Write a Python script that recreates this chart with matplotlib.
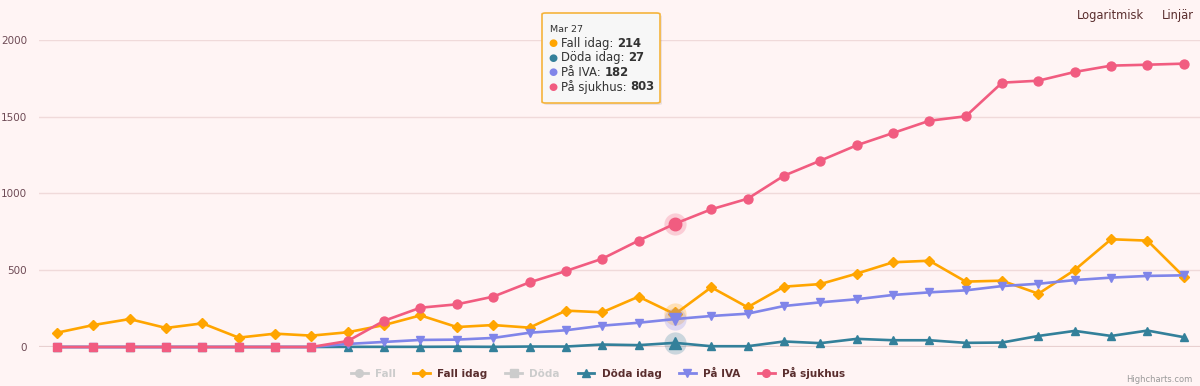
import matplotlib
matplotlib.use("Agg")
import matplotlib.pyplot as plt
from matplotlib.lines import Line2D
from matplotlib.patches import FancyBboxPatch
import numpy as np

plt.rcParams['font.family'] = ['DejaVu Sans']

# ---- data (Mar 10 .. Apr 10) ----
dates = ["Mar %d" % d for d in range(10, 32)] + ["Apr %d" % d for d in range(1, 11)]
fall_idag = [93, 143, 182, 124, 154, 61, 87, 74, 96, 143, 206, 130, 143, 126, 237, 226,
             328, 214, 389, 259, 393, 410, 478, 552, 562, 426, 432, 347, 502, 702, 693, 458]
doda_idag = [0, 0, 0, 0, 0, 0, 0, 0, 1, 1, 1, 2, 1, 3, 3, 16,
             12, 27, 5, 5, 36, 25, 53, 44, 44, 27, 29, 72, 105, 72, 107, 64]
pa_iva = [0, 0, 0, 0, 0, 0, 0, 0, 20, 33, 46, 48, 59, 93, 109, 139,
          158, 182, 202, 217, 267, 291, 311, 339, 356, 369, 397, 412, 436, 452, 463, 467]
pa_sjukhus = [0, 0, 0, 0, 0, 0, 0, 0, 39, 171, 256, 278, 328, 421, 495, 575,
              693, 803, 897, 966, 1116, 1214, 1314, 1394, 1474, 1503, 1722, 1735, 1792, 1833, 1839, 1846]
yticks = [0, 500, 1000, 1500, 2000]
hover_index = 17

C_FALL = "#FFA500"
C_DODA = "#33809A"
C_IVA = "#8085E9"
C_SJUK = "#F15C80"
C_GRAY = "#CCCCCC"
BG = "#FFF4F4"
TXT = "#5A2E2E"

W, H = 1200, 386
fig = plt.figure(figsize=(W / 100, H / 100), dpi=100, facecolor=BG)

def fx(px):
    return px / W

def fy(py):
    return 1 - py / H

ax_left, ax_right = 38.8, 1202.0
ax_top, ax_bot = 40.0, 347.0
ax = fig.add_axes([fx(ax_left), fy(ax_bot), fx(ax_right - ax_left), (ax_bot - ax_top) / H])
ax.set_facecolor(BG)
x = np.arange(len(dates))
ax.set_xlim(-0.5, len(dates) - 0.5)
ax.set_ylim(0, 2000)

for s in ax.spines.values():
    s.set_visible(False)
ax.set_xticks([])
ax.set_yticks(yticks)
ax.set_yticklabels([str(t) for t in yticks], color="#6E4A55", fontsize=7.5)
ax.tick_params(axis='y', length=0, pad=8.5)
for t in yticks[1:]:
    ax.axhline(t, color="#F0DADA", lw=1.0, zorder=0)
ax.axhline(0, color="#E8D0D0", lw=1.6, zorder=0.5)

lw = 1.9
ms = 5.6
ax.plot(x, fall_idag, color=C_FALL, lw=lw, marker='D', ms=ms * 0.85, clip_on=False, zorder=3)
ax.plot(x, doda_idag, color=C_DODA, lw=lw, marker='^', ms=ms, clip_on=False, zorder=4)
ax.plot(x, pa_iva, color=C_IVA, lw=lw, marker='v', ms=ms, clip_on=False, zorder=5)
sj = np.array(pa_sjukhus)
ax.plot(x, sj, color=C_SJUK, lw=lw, clip_on=False, zorder=6)
pos = sj > 0
ax.plot(x[pos], sj[pos], ls='none', marker='o', ms=ms * 1.15, color=C_SJUK, clip_on=False, zorder=6)
ax.plot(x[~pos], sj[~pos], ls='none', marker='s', ms=ms * 1.05, color=C_SJUK, clip_on=False, zorder=6)

# hover halos at Mar 27
hi = hover_index
for vals, col, mk, z in [(fall_idag, C_FALL, 'D', 3), (doda_idag, C_DODA, '^', 4),
                         (pa_iva, C_IVA, 'v', 5), (pa_sjukhus, C_SJUK, 'o', 6)]:
    ax.plot([hi], [vals[hi]], ls='none', marker='o', ms=16, color=col, alpha=0.25,
            mec='none', clip_on=False, zorder=z)
    ax.plot([hi], [vals[hi]], ls='none', marker=mk, ms=9 if mk != 'D' else 7.5,
            color=col, clip_on=False, zorder=z + 0.1)

# ---- legend ----
handles = [
    Line2D([], [], color=C_GRAY, lw=2, marker='o', ms=5.5),
    Line2D([], [], color=C_FALL, lw=2, marker='D', ms=4.5),
    Line2D([], [], color=C_GRAY, lw=2, marker='s', ms=5.5),
    Line2D([], [], color=C_DODA, lw=2, marker='^', ms=5.5),
    Line2D([], [], color=C_IVA, lw=2, marker='v', ms=5.5),
    Line2D([], [], color=C_SJUK, lw=2, marker='o', ms=5.5),
]
labels = ["Fall", "Fall idag", "Döda", "Döda idag", "På IVA", "På sjukhus"]
leg = fig.legend(handles, labels, loc='center', bbox_to_anchor=(fx(598), fy(373)), ncol=6,
                 frameon=False, handlelength=1.6, handletextpad=0.7,
                 columnspacing=1.7, prop={'weight': 'bold', 'size': 7.5})
for txt, lab in zip(leg.get_texts(), labels):
    txt.set_color(C_GRAY if lab in ("Fall", "Döda") else TXT)

# ---- buttons / credit ----
fig.text(fx(1110), fy(16), "Logaritmisk", ha='center', va='center', fontsize=8.3, color=TXT)
fig.text(fx(1177.5), fy(16), "Linjär", ha='center', va='center', fontsize=8.3, color=TXT)
fig.text(fx(1192), fy(379), "Highcharts.com", ha='right', va='center', fontsize=6, color="#999999")

# ---- tooltip ----
box = FancyBboxPatch((fx(542), fy(103)), fx(118), (103 - 13) / H,
                     boxstyle="round,pad=0,rounding_size=0.003", transform=fig.transFigure,
                     facecolor="#F7F7F7", edgecolor="#F5B43C", lw=1.2, zorder=10)
shadow = FancyBboxPatch((fx(544), fy(105)), fx(118), (103 - 13) / H,
                        boxstyle="round,pad=0,rounding_size=0.003", transform=fig.transFigure,
                        facecolor="#000000", edgecolor='none', alpha=0.08, zorder=9)
fig.patches.extend([shadow, box])
fig.text(fx(550), fy(29), dates[hi], fontsize=6.8, color="#333333", va='center', zorder=11)
rows = [("Fall idag", fall_idag[hi], C_FALL), ("Döda idag", doda_idag[hi], C_DODA),
        ("På IVA", pa_iva[hi], C_IVA), ("På sjukhus", pa_sjukhus[hi], C_SJUK)]
renderer = fig.canvas.get_renderer()
for i, (name, val, col) in enumerate(rows):
    yy = 43.3 + i * 14.5
    fig.text(fx(553), fy(yy), "\u25CF", color=col, fontsize=7.5, ha='center', va='center', zorder=11)
    t = fig.text(fx(561), fy(yy), name + ": ", fontsize=8.4, color="#333333", va='center', zorder=11)
    bb = t.get_window_extent(renderer)
    fig.text(bb.x1 / W, fy(yy), str(val), fontsize=8.4, color="#333333", weight='bold',
             va='center', zorder=11)

fig.savefig("out.png", dpi=100, facecolor=BG)
